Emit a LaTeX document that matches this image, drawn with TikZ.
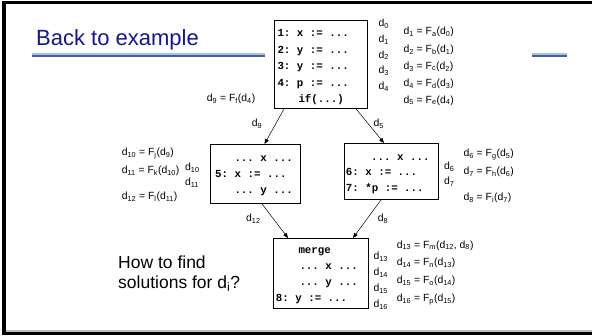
\documentclass[tikz,border=0pt]{standalone}
\usepackage{fontspec}
\setmainfont{Liberation Sans}
\setmonofont{Liberation Mono}
\usetikzlibrary{arrows.meta}
\definecolor{titleblue}{RGB}{20,20,150}
\definecolor{ruleLight}{RGB}{160,200,215}
\definecolor{ruleDark}{RGB}{75,90,170}
\definecolor{frameGray}{RGB}{190,190,190}
\newcommand\Dn[1]{d\textsubscript{#1}}
\newcommand\Fn[1]{F\textsubscript{#1}}
\begin{document}
\begin{tikzpicture}[x=1pt,y=-1pt,
  lbl/.style={anchor=base west, inner sep=0pt, font=\fontsize{10.4}{12}\selectfont},
  code/.style={anchor=base west, inner sep=0pt, font=\fontsize{10.8}{12}\selectfont\ttfamily\bfseries},
  blk/.style={draw, line width=0.9pt, anchor=north west, inner sep=0pt},
  flow/.style={-{Triangle[length=5pt,width=4pt]}, line width=0.5pt},
  big/.style={anchor=base west, inner sep=0pt, font=\fontsize{17.5}{20}\selectfont}]
\useasboundingbox (0,0) rectangle (592,336);
\fill[white] (0,0) rectangle (592,336);
% frame
\fill[frameGray] (6,329.8) rectangle (592,331.6);
\fill[black] (2,0.7) rectangle (592,4);
\fill[black] (2,0.7) rectangle (6,335);
\fill[black] (2,331.6) rectangle (592,335);
% title
\node[anchor=base west, inner sep=0pt, text=titleblue, font=\fontsize{22}{26}\selectfont] (title) at (36,45.7) {Back to example};
\fill[ruleLight] (32,53) rectangle (265,55);
\fill[ruleDark] (32,55) rectangle (265,56.7);
\fill[ruleLight] (532,53) rectangle (567,55);
\fill[ruleDark] (532,55) rectangle (567,56.7);
% block 1
\node[blk, minimum width=93pt, minimum height=88pt] (b1) at (274,20) {};
\node[code] (c11) at (277.3,37) {1: x := ...};
\node[code] (c12) at (277.3,53.5) {2: y := ...};
\node[code] (c13) at (277.3,70) {3: y := ...};
\node[code] (c14) at (277.3,86.5) {4: p := ...};
\node[code] (c15) at (298.3,103) {if(...)};
\node[lbl] (l0) at (378.3,26.7) {\Dn{0}};
\node[lbl] (l1) at (378.3,42.5) {\Dn{1}};
\node[lbl] (l2) at (378.3,58.3) {\Dn{2}};
\node[lbl] (l3) at (378.3,74) {\Dn{3}};
\node[lbl] (l4) at (378.3,90) {\Dn{4}};
\node[lbl] (e1) at (403.3,35) {\Dn{1} = \Fn{a}(\Dn{0})};
\node[lbl] (e2) at (403.3,52.5) {\Dn{2} = \Fn{b}(\Dn{1})};
\node[lbl] (e3) at (403.3,69.5) {\Dn{3} = \Fn{c}(\Dn{2})};
\node[lbl] (e4) at (403.3,87) {\Dn{4} = \Fn{d}(\Dn{3})};
\node[lbl] (e5) at (403.3,103.3) {\Dn{5} = \Fn{e}(\Dn{4})};
\node[lbl] (e9) at (206.7,101.7) {\Dn{9} = \Fn{f}(\Dn{4})};
% block 2
\node[blk, minimum width=90pt, minimum height=59pt] (b2) at (210,144) {};
\node[code] (c21) at (234.3,161.5) {... x ...};
\node[code] (c22) at (215,177.5) {5: x := ...};
\node[code] (c23) at (234.3,193.5) {... y ...};
\node[lbl] (e10) at (121.7,155.7) {\Dn{10} = \Fn{j}(\Dn{9})};
\node[lbl] (e11) at (121.7,174) {\Dn{11} = \Fn{k}(\Dn{10})};
\node[lbl] (e12) at (121.7,200) {\Dn{12} = \Fn{l}(\Dn{11})};
\node[lbl] (l10) at (185,170.7) {\Dn{10}};
\node[lbl] (l11) at (185,185.7) {\Dn{11}};
% block 3
\node[blk, minimum width=94pt, minimum height=56pt] (b3) at (344,143) {};
\node[code] (c31) at (371,160.7) {... x ...};
\node[code] (c32) at (345.7,175.5) {6: x := ...};
\node[code] (c33) at (345.7,191.7) {7: *p := ...};
\node[lbl] (l6) at (444,170) {\Dn{6}};
\node[lbl] (l7) at (444,185) {\Dn{7}};
\node[lbl] (e6) at (463.3,156.7) {\Dn{6} = \Fn{g}(\Dn{5})};
\node[lbl] (e7) at (463.3,175) {\Dn{7} = \Fn{h}(\Dn{6})};
\node[lbl] (e8) at (463.3,200.7) {\Dn{8} = \Fn{i}(\Dn{7})};
% block 4
\node[blk, minimum width=95pt, minimum height=70pt] (b4) at (273,238) {};
\node[code] (c41) at (298.3,254) {merge};
\node[code] (c42) at (299.3,270) {... x ...};
\node[code] (c43) at (299.3,285.5) {... y ...};
\node[code] (c44) at (275.7,301.5) {8: y := ...};
\node[lbl] (l13) at (373.3,260) {\Dn{13}};
\node[lbl] (l14) at (373.3,276) {\Dn{14}};
\node[lbl] (l15) at (373.3,292) {\Dn{15}};
\node[lbl] (l16) at (373.3,308) {\Dn{16}};
\node[lbl] (e13) at (396.7,248.3) {\Dn{13} = \Fn{m}(\Dn{12}, \Dn{8})};
\node[lbl] (e14) at (396.7,266) {\Dn{14} = \Fn{n}(\Dn{13})};
\node[lbl] (e15) at (396.7,284) {\Dn{15} = \Fn{o}(\Dn{14})};
\node[lbl] (e16) at (396.7,301.7) {\Dn{16} = \Fn{p}(\Dn{15})};
% question
\node[big] (q1) at (118,269) {How to find};
\node[big] (q2) at (118,289) {solutions for \Dn{i}?};
% arrows
\draw[flow] ([xshift=10pt]b1.south west) -- ([xshift=54.5pt]b2.north west);
\draw[flow] ([xshift=82pt]b1.south west) -- ([xshift=40pt]b3.north west);
\draw[flow] ([xshift=52pt]b2.south west) -- ([xshift=15pt]b4.north west);
\draw[flow] ([xshift=37pt]b3.south west) -- ([xshift=80pt]b4.north west);
\node[lbl] (a9) at (251.7,126.5) {\Dn{9}};
\node[lbl] (a5) at (373.3,127) {\Dn{5}};
\node[lbl] (a12) at (246,221.7) {\Dn{12}};
\node[lbl] (a8) at (377.7,221.7) {\Dn{8}};
\end{tikzpicture}
\end{document}
